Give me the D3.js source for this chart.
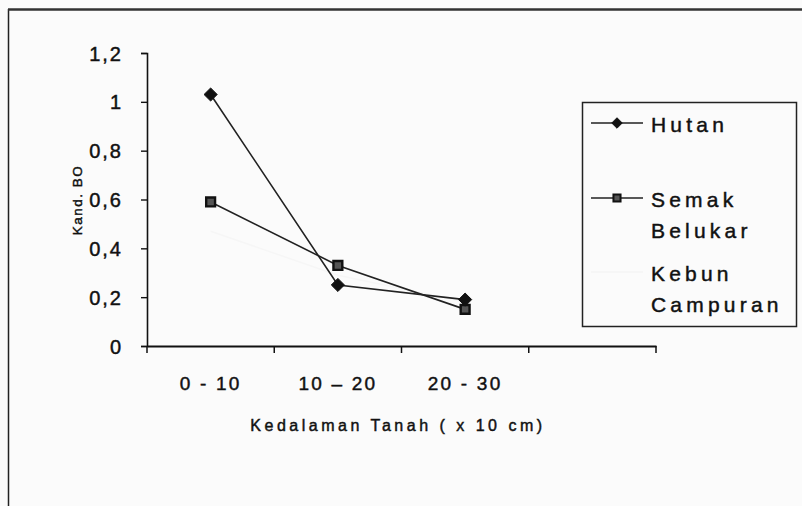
<!DOCTYPE html>
<html>
<head>
<meta charset="utf-8">
<script src="https://cdn.jsdelivr.net/npm/d3@7"></script>
<style>
  body { margin: 0; background: #fbfbfb; }
  svg { display: block; font-family: "Liberation Sans", Arial, sans-serif; }
  text { stroke: #111; stroke-width: 0.45px; }
</style>
</head>
<body>
<div id="chart"></div>
<script>
// data
const categories = ["0 - 10", "10 – 20", "20 - 30", ""];
const hutan = [1.03, 0.25, 0.19];
const semakBelukar = [0.59, 0.33, 0.15];
const kebunCampuran = [0.47, 0.29, 0.18]; // almost invisible in the original
const yTicks = [0, 0.2, 0.4, 0.6, 0.8, 1, 1.2];

const width = 802, height = 506;
const svg = d3.select("#chart").append("svg")
    .attr("width", width)
    .attr("height", height);

svg.append("rect")
    .attr("width", width).attr("height", height)
    .attr("fill", "#fbfbfb");

// outer frame (only left and top edges show)
svg.append("line").attr("x1", 8.5).attr("y1", 9).attr("x2", 8.5).attr("y2", height)
    .attr("stroke", "#222").attr("stroke-width", 1.5);
svg.append("line").attr("x1", 8).attr("y1", 9.5).attr("x2", width).attr("y2", 9.5)
    .attr("stroke", "#333").attr("stroke-width", 2.5);

const x = d3.scaleBand()
    .domain(categories)
    .range([147, 656]);

const y = d3.scaleLinear()
    .domain([0, 1.2])
    .range([346, 53]);

const fmt = d => String(d).replace(".", ",");

// y axis
const yAxis = svg.append("g")
    .attr("transform", "translate(147,0)")
    .call(d3.axisLeft(y).tickValues(yTicks).tickFormat(fmt).tickSize(6).tickPadding(18));
yAxis.select(".domain").attr("stroke", "#111").attr("stroke-width", 1.6);
yAxis.selectAll(".tick line").attr("stroke", "#111").attr("stroke-width", 1.4);
yAxis.selectAll(".tick text")
    .attr("fill", "#111")
    .style("font-size", "20px")
    .style("letter-spacing", "2px")
    .attr("dy", "0.35em");

// x axis
const xAxis = svg.append("g")
    .attr("transform", "translate(0,346)")
    .call(d3.axisBottom(x).tickSize(0).tickPadding(31));
xAxis.select(".domain").attr("stroke", "#111").attr("stroke-width", 1.8);
xAxis.selectAll(".tick text")
    .attr("fill", "#111")
    .style("font-size", "19px")
    .style("letter-spacing", "2.2px");

// category boundary ticks
const bounds = d3.range(categories.length + 1).map(i => x.range()[0] + i * x.step());
svg.append("g").selectAll("line")
    .data(bounds)
    .join("line")
    .attr("x1", d => d).attr("x2", d => d)
    .attr("y1", 346).attr("y2", 353)
    .attr("stroke", "#111").attr("stroke-width", 1.5);

// axis titles
svg.append("text")
    .attr("transform", "translate(82,200) rotate(-90)")
    .attr("text-anchor", "middle")
    .attr("fill", "#111")
    .style("font-size", "13.5px")
    .style("letter-spacing", "1.5px")
    .text("Kand. BO");

svg.append("text")
    .attr("x", 398)
    .attr("y", 431)
    .attr("text-anchor", "middle")
    .attr("fill", "#111")
    .style("font-size", "16px")
    .style("letter-spacing", "3.5px")
    .text("Kedalaman Tanah ( x 10 cm)");

// series
const cx = (d, i) => x(categories[i]) + x.bandwidth() / 2;
const line = d3.line().x(cx).y(d => y(d));

svg.append("path")
    .datum(kebunCampuran)
    .attr("d", line)
    .attr("fill", "none")
    .attr("stroke", "#f6f6f6")
    .attr("stroke-width", 1.5);

svg.append("path")
    .datum(semakBelukar)
    .attr("d", line)
    .attr("fill", "none")
    .attr("stroke", "#222")
    .attr("stroke-width", 1.6);

svg.append("path")
    .datum(hutan)
    .attr("d", line)
    .attr("fill", "none")
    .attr("stroke", "#222")
    .attr("stroke-width", 1.6);

const diamond = d3.symbol().type(d3.symbolDiamond2).size(110);
const square = d3.symbol().type(d3.symbolSquare2).size(100);

svg.append("g").selectAll("path")
    .data(semakBelukar)
    .join("path")
    .attr("transform", (d, i) => `translate(${cx(d, i)},${y(d)})`)
    .attr("d", square)
    .attr("fill", "#555")
    .attr("stroke", "#111")
    .attr("stroke-width", 2.4);

svg.append("g").selectAll("path")
    .data(hutan)
    .join("path")
    .attr("transform", (d, i) => `translate(${cx(d, i)},${y(d)})`)
    .attr("d", diamond)
    .attr("fill", "#111")
    .attr("stroke", "#111")
    .attr("stroke-width", 1);

// legend
const legend = svg.append("g");
legend.append("rect")
    .attr("x", 582.5).attr("y", 102.5)
    .attr("width", 214).attr("height", 224)
    .attr("fill", "#fbfbfb")
    .attr("stroke", "#222").attr("stroke-width", 1.5);

const legendItems = [
    { lines: ["Hutan"], y: 123, mark: diamond, fill: "#111", sw: 1, stroke: "#222" },
    { lines: ["Semak", "Belukar"], y: 198, mark: square, fill: "#555", sw: 2, stroke: "#222" },
    { lines: ["Kebun", "Campuran"], y: 272, mark: null, stroke: "#f4f4f4" }
];

legendItems.forEach(item => {
    legend.append("line")
        .attr("x1", 591).attr("x2", 643)
        .attr("y1", item.y).attr("y2", item.y)
        .attr("stroke", item.stroke).attr("stroke-width", 1.6);
    if (item.mark) {
        legend.append("path")
            .attr("transform", `translate(617,${item.y})`)
            .attr("d", item.mark.size(item.mark === diamond ? 70 : 64))
            .attr("fill", item.fill)
            .attr("stroke", "#111")
            .attr("stroke-width", item.sw);
    }
    const t = legend.append("text")
        .attr("x", 651)
        .attr("y", item.y + 9)
        .attr("fill", "#111")
        .style("font-size", "21px")
        .style("letter-spacing", "4.2px");
    item.lines.forEach((s, k) => {
        t.append("tspan").attr("x", 651).attr("dy", k === 0 ? 0 : 31).text(s);
    });
});
</script>
</body>
</html>
